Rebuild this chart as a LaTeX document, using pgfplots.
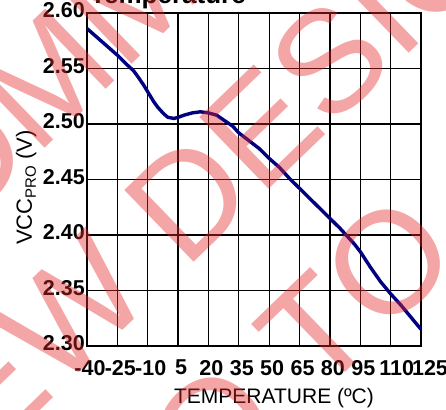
\documentclass[border=0pt]{standalone}
\usepackage{fontspec}
\setmainfont{Liberation Sans}
\usepackage{pgfplots}
\pgfplotsset{compat=1.18}
\definecolor{curve}{RGB}{0,0,128}
\definecolor{wm}{RGB}{228,40,40}
\pgfplotstableread{
T V
-40 2.586
-35 2.578
-30 2.570
-25 2.562
-20 2.553
-17 2.548
-15 2.543
-12 2.535
-10 2.529
-7 2.520
-5 2.515
-2 2.509
0 2.506
3 2.505
5 2.506
8 2.508
12 2.510
16 2.511
20 2.510
24 2.508
28 2.503
32 2.498
35 2.492
40 2.485
45 2.478
50 2.469
55 2.461
58 2.455
60 2.451
65 2.442
70 2.433
75 2.424
80 2.415
85 2.406
88 2.400
92 2.392
95 2.385
100 2.371
105 2.358
110 2.347
115 2.337
120 2.326
125 2.315
}\vcc
\begin{document}
\begin{tikzpicture}
\begin{axis}[
  at={(87bp,-346bp)}, anchor=south west,
  scale only axis, width=334bp, height=333bp,
  xmin=-40, xmax=125, ymin=2.30, ymax=2.60,
  xtick={-40,-25,-10,5,20,35,50,65,80,95,110,125},
  xticklabels={-40,-25,-10,5,20,35,50,65,80,95,\hspace{6bp}110,\hspace{12bp}125},
  ytick={2.30,2.35,2.40,2.45,2.50,2.55,2.60},
  yticklabels={2.30,2.35,2.40,2.45,2.50,2.55,2.60},
  major tick length=0pt,
  grid=major,
  major grid style={black, line width=1.2bp},
  axis line style={black, line width=2.2bp},
  xticklabel style={font=\fontsize{21.5bp}{24bp}\selectfont\bfseries, anchor=north, inner sep=0pt, yshift=-14bp, xshift=3bp},
  yticklabel style={font=\fontsize{21.5bp}{24bp}\selectfont\bfseries, anchor=east, inner sep=0pt, xshift=-2bp, yshift=2.5bp},
  xlabel={TEMPERATURE (ºC)},
  ylabel={VCC\raisebox{-4bp}{\fontsize{15bp}{15bp}\selectfont PRO} (V)},
  xlabel style={font=\fontsize{21bp}{24bp}\selectfont, at={(rel axis cs:0.56,-0.1712)}, anchor=base, inner sep=0pt},
  ylabel style={font=\fontsize{22bp}{24bp}\selectfont, at={(rel axis cs:-0.1647,0.476)}, anchor=base, inner sep=0pt},
]
\addplot[curve, line width=3.4bp, line join=round, line cap=round] table[x=T, y=V] {\vcc};
\end{axis}
\node[anchor=base west, inner sep=0pt, font=\fontsize{26bp}{28bp}\selectfont\bfseries] at (90bp,-3bp) {Temperature};
\begin{scope}[rotate=44]
\foreach \l/\r/\u in {O/-138/-88, M/-22/-88, M/99/-88,
  E/-280/-273, W/-163/-273, D/-2/-273, E/98.6/-273, S/195/-273, I/264/-273, G/340/-273, N/449/-273,
  O/-145/-458, T/-4/-458, O/97/-458}
  \node[text=wm, text opacity=0.42, rotate=44, inner sep=0pt, font=\fontsize{145bp}{145bp}\selectfont] at (\r bp,\u bp) {\l};
\end{scope}
\pgfresetboundingbox
\useasboundingbox (0bp,0bp) rectangle (446bp,-410bp);
\end{tikzpicture}
\end{document}
